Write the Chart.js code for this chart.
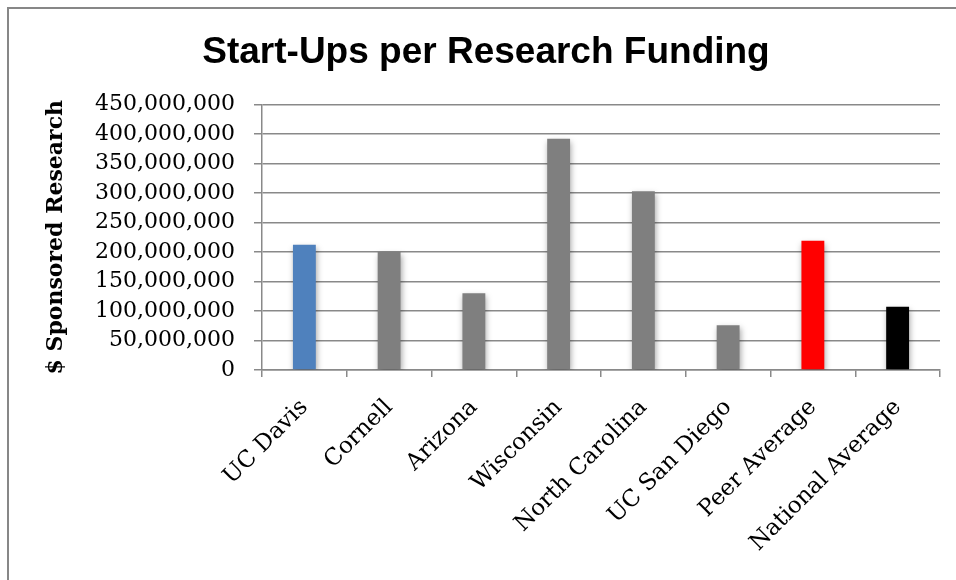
<!DOCTYPE html>
<html>
<head>
<meta charset="utf-8">
<title>Start-Ups per Research Funding</title>
<script src="https://cdn.jsdelivr.net/npm/chart.js@4.4.1/dist/chart.umd.min.js"></script>
<style>
    html, body { margin: 0; padding: 0; background: #fff; overflow: hidden; }
    #wrap { position: relative; width: 956px; height: 580px; }
    #frame {
        position: absolute; left: 7px; top: 7px; width: 1000px; height: 1000px;
        border: 2px solid #878787;
    }
    #myChart { position: absolute; left: 0; top: 0; }
</style>
</head>
<body>
<div id="wrap">
    <div id="frame"></div>
    <canvas id="myChart" width="956" height="580"></canvas>
</div>
<script>
// data
var schools = ['UC Davis', 'Cornell', 'Arizona', 'Wisconsin', 'North Carolina', 'UC San Diego', 'Peer Average', 'National Average'];
var sponsoredResearch = [212000000, 200000000, 130000000, 392000000, 303000000, 76000000, 219000000, 107000000];
var barColors = ['#4F81BD', '#7F7F7F', '#7F7F7F', '#7F7F7F', '#7F7F7F', '#7F7F7F', '#FF0000', '#000000'];
var yMin = 0;
var yMax = 450000000;
var yStep = 50000000;

var gridColor = '#898989';

// soft shadow under the bars (like the excel one)
var barShadow = {
    id: 'barShadow',
    beforeDatasetsDraw: function (chart) {
        var ctx = chart.ctx;
        ctx.save();
        ctx.shadowColor = 'rgba(0,0,0,0.35)';
        ctx.shadowBlur = 6;
        ctx.shadowOffsetX = 1;
        ctx.shadowOffsetY = 3;
    },
    afterDatasetsDraw: function (chart) {
        chart.ctx.restore();
    }
};

const ctx = document.getElementById('myChart');
var xx = new Chart(ctx, {
    type: 'bar',
    data: {
        labels: schools,
        datasets: [
            {
                label: '$ Sponsored Research',
                data: sponsoredResearch,
                backgroundColor: barColors,
                borderWidth: 0,
                categoryPercentage: 1,
                barPercentage: 0.27
            }
        ]
    },
    options: {
        responsive: false,
        animation: false,
        devicePixelRatio: 1,
        layout: {
            padding: { left: 32, right: 16, top: 0, bottom: 0 }
        },
        plugins: {
            legend: { display: false },
            tooltip: { enabled: false },
            title: {
                display: true,
                text: 'Start-Ups per Research Funding',
                color: '#000',
                font: { family: '"Liberation Sans", Arial, sans-serif', size: 37, weight: 'bold' },
                padding: { top: 31, bottom: 29 }
            }
        },
        scales: {
            y: {
                min: yMin,
                max: yMax,
                afterFit: function (scale) { scale.width = 230; },
                ticks: {
                    stepSize: yStep,
                    color: '#000',
                    padding: 19,
                    font: { family: '"DejaVu Serif", serif', size: 22 },
                    callback: function (v) { return v.toLocaleString('en-US'); }
                },
                grid: {
                    color: gridColor,
                    lineWidth: 1.5,
                    tickLength: 8
                },
                border: { display: true, color: gridColor, width: 1.5 },
                title: {
                    display: true,
                    text: '$ Sponsored Research',
                    color: '#000',
                    font: { family: '"DejaVu Serif", serif', size: 22, weight: 'bold' },
                    padding: { top: 11, bottom: 0 }
                }
            },
            x: {
                afterFit: function (scale) { scale.height = 210; },
                ticks: {
                    color: '#000',
                    minRotation: 45,
                    maxRotation: 45,
                    autoSkip: false,
                    padding: 17,
                    labelOffset: 0,
                    font: { family: '"DejaVu Serif", serif', size: 23 }
                },
                grid: {
                    drawOnChartArea: false,
                    drawTicks: true,
                    tickLength: 7,
                    color: gridColor,
                    lineWidth: 1.5
                },
                border: { display: true, color: gridColor, width: 1.5 }
            }
        }
    },
    plugins: [barShadow]
});
</script>
</body>
</html>
